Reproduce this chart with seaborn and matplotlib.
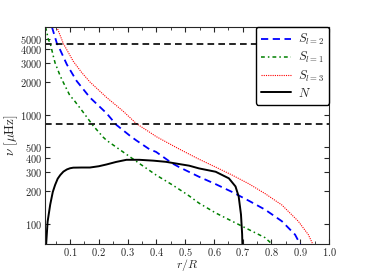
import matplotlib
matplotlib.use("Agg")
import matplotlib.pyplot as plt
import matplotlib.ticker as mticker
import seaborn as sns

# radius (r/R) and frequency (muHz)
r_s2 = [0.037, 0.054, 0.0655, 0.089, 0.123, 0.169, 0.227, 0.261, 0.307, 0.33, 0.376, 0.399,
        0.456, 0.479, 0.548, 0.606, 0.663, 0.721, 0.778, 0.836, 0.882, 0.899, 0.905]
s2 = [6400, 4550, 3950, 2890, 2040, 1440, 1030, 806, 644, 581, 481, 455,
      356, 330, 269, 230, 195, 162, 134, 105, 79, 65, 58]

r_s1 = [0.015, 0.025, 0.031, 0.042, 0.048, 0.066, 0.077, 0.1, 0.111, 0.146, 0.180, 0.215,
        0.227, 0.284, 0.341, 0.399, 0.456, 0.508, 0.548, 0.606, 0.663, 0.721, 0.778, 0.801, 0.81]
s1 = [6400, 4870, 4550, 3435, 2990, 2264, 1970, 1488, 1390, 1051, 794, 622,
      581, 455, 356, 279, 226, 184, 154, 125, 105, 88, 74, 65, 62]

r_s3 = [0.054, 0.077, 0.111, 0.140, 0.169, 0.227, 0.284, 0.330, 0.376, 0.399, 0.479, 0.548,
        0.606, 0.663, 0.721, 0.778, 0.836, 0.893, 0.928, 0.943, 0.95]
s3 = [6400, 4490, 3100, 2450, 2000, 1440, 1080, 830, 692, 630, 484, 390,
      330, 279, 232, 188, 148, 105, 79, 65, 58]

r_n = [0.014, 0.017, 0.022, 0.031, 0.040, 0.048, 0.057, 0.066, 0.077, 0.089, 0.100,
       0.111, 0.140, 0.169, 0.200, 0.227, 0.260, 0.296, 0.341, 0.390, 0.433, 0.479,
       0.514, 0.548, 0.606, 0.652, 0.675, 0.686, 0.694, 0.698, 0.701]
n = [40, 65, 104, 149, 195, 226, 258, 279, 300, 314, 322,
     326, 327, 327, 336, 349, 368, 385, 385, 378, 369, 352,
     340, 321, 299, 260, 219, 177, 121, 80, 40]

hlines = [4490, 828]

y_major = [100, 200, 300, 400, 500, 1000, 2000, 3000, 4000, 5000]
x_major = [0.1, 0.2, 0.3, 0.4, 0.5, 0.6, 0.7, 0.8, 0.9, 1.0]

sns.set_style("ticks")
plt.rcParams["font.family"] = ["DejaVu Serif"]
plt.rcParams["mathtext.fontset"] = "cm"

fig = plt.figure(figsize=(3.66, 2.74), dpi=100)
ax = fig.add_axes([0.123, 0.11, 0.776, 0.7915])

sns.lineplot(x=r_s2, y=s2, color="blue", linestyle=(0, (4, 2.5)), lw=1.3,
             label=r"$S_{l=2}$", ax=ax, sort=False)
sns.lineplot(x=r_s1, y=s1, color="green", linestyle=(0, (2.5, 2, 1, 2)), lw=1.1,
             label=r"$S_{l=1}$", ax=ax, sort=False)
sns.lineplot(x=r_s3, y=s3, color="red", linestyle=(0, (1, 1)), lw=0.8,
             label=r"$S_{l=3}$", ax=ax, sort=False)
sns.lineplot(x=r_n, y=n, color="black", linestyle="-", lw=1.4, label=r"$N$", ax=ax, sort=False)
for h in hlines:
    ax.axhline(h, color="black", linestyle=(0, (4, 2.5)), lw=1.2)

ax.set_yscale("log")
ax.set_xlim(0.013, 1.0)
ax.set_ylim(65, 6400)

ax.yaxis.set_major_locator(mticker.FixedLocator(y_major))
ax.yaxis.set_minor_locator(mticker.NullLocator())
ax.yaxis.set_major_formatter(mticker.FuncFormatter(lambda v, p: "$%g$" % v))
ax.xaxis.set_major_locator(mticker.FixedLocator(x_major))
ax.xaxis.set_minor_locator(mticker.MultipleLocator(0.05))
ax.xaxis.set_major_formatter(mticker.FuncFormatter(lambda v, p: "$%.1f$" % v))
ax.tick_params(which="both", direction="in", top=True, right=True, labelsize=7.5, pad=2)
ax.tick_params(axis="x", pad=1.5)
ax.tick_params(which="major", length=3.5)
ax.tick_params(which="minor", length=2)

ax.set_xlabel(r"$r/R$", fontsize=8.5)
ax.xaxis.set_label_coords(0.5, -0.062)
ax.set_ylabel(r"$\nu\ [\mu\mathrm{Hz}]$", fontsize=9.5, labelpad=0)

leg = ax.legend(loc="upper right", fontsize=9, frameon=True, fancybox=True,
                borderaxespad=0.0, handlelength=2.4, labelspacing=0.25,
                handletextpad=0.6, framealpha=1)
leg.get_frame().set_edgecolor("black")

fig.savefig("out.png", dpi=100)
